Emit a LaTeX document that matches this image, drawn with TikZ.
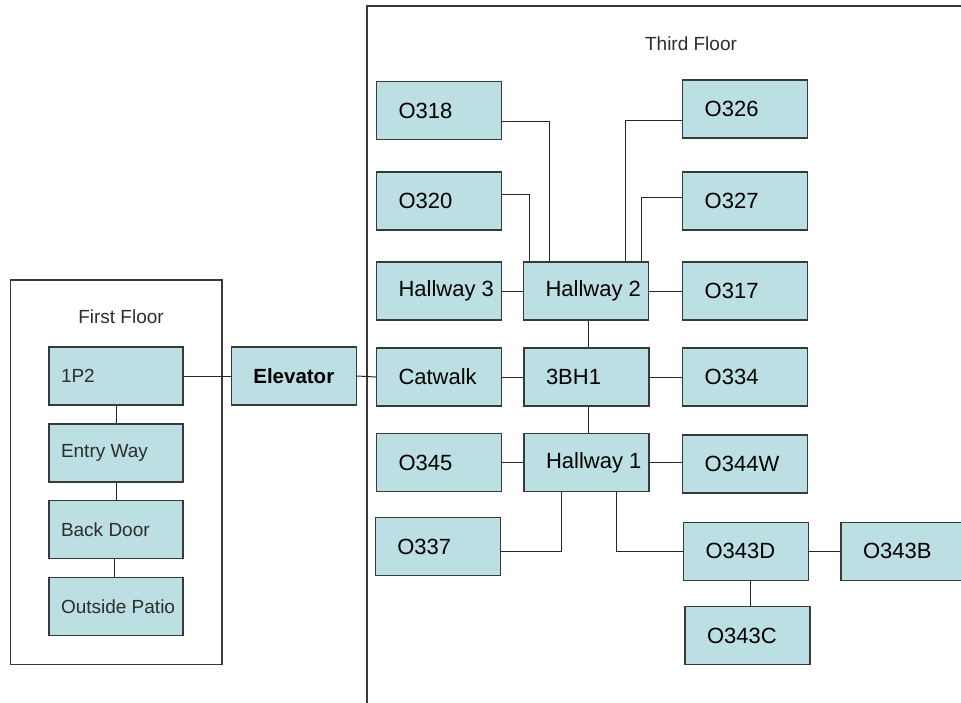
\documentclass[tikz,border=0pt]{standalone}
\usepackage{fontspec}
\setmainfont{Liberation Sans}
\definecolor{boxfill}{RGB}{187,223,226}
\definecolor{edgegray}{RGB}{58,58,58}
\definecolor{softtext}{RGB}{45,45,45}
\newcommand\rtA[1]{\makebox[81pt][l]{#1}}
\newcommand\rtB[1]{\makebox[110pt][l]{#1}}
\begin{document}
\begin{tikzpicture}[x=1pt,y=-1pt,
  room/.style={draw=edgegray, line width=1.3pt, fill=boxfill, rectangle,
    minimum width=125pt, minimum height=58pt, inner xsep=22pt, inner ysep=0pt,
    font=\fontsize{22}{26}\selectfont},
  froom/.style={room, minimum width=134pt, inner xsep=12pt, text=softtext,
    font=\fontsize{19}{23}\selectfont},
  elevbox/.style={room, inner xsep=4pt, font=\fontsize{20.5}{24}\selectfont\bfseries},
  link/.style={draw=black!85, line width=1pt},
  floorframe/.style={draw=edgegray, line width=1.2pt},
  title/.style={text=softtext, font=\fontsize{19}{23}\selectfont, inner sep=0pt}]
\useasboundingbox (0,0) rectangle (961,702);
\clip (0,0) rectangle (961,702);

% floor frames
\draw[floorframe] (10.7,280) rectangle (222,664.3);
\draw[floorframe] (367,6) rectangle (1000,720);
\node[title] (t1) at (121,316.7) {First Floor};
\node[title] (t3) at (691,44) {Third Floor};

% first floor
\node[froom] (p1)  at (116,376)   {\rtB{1P2}};
\node[froom] (ew)  at (116,453)   {\rtB{Entry Way}};
\node[froom] (bd)  at (116,529.7) {\rtB{Back Door}};
\node[froom] (op)  at (116,606.7) {\rtB{Outside Patio}};
\node[elevbox] (el) at (293.8,376) {Elevator};

% third floor
\node[room] (o318) at (439,110.5) {\rtA{O318}};
\node[room] (o326) at (745.2,109) {\rtA{O326}};
\node[room] (o320) at (439,201)   {\rtA{O320}};
\node[room] (o327) at (745.2,201) {\rtA{O327}};
\node[room] (h3)   at (439,291)   {\rtA{Hallway 3}};
\node[room] (h2)   at (586,291)   {\rtA{Hallway 2}};
\node[room] (o317) at (745.2,291) {\rtA{O317}};
\node[room] (cw)   at (439,377)   {\rtA{Catwalk}};
\node[room] (bh)   at (586.5,377) {\rtA{3BH1}};
\node[room] (o334) at (745.2,377) {\rtA{O334}};
\node[room] (o345) at (439,462.7) {\rtA{O345}};
\node[room] (h1)   at (586.5,462.7) {\rtA{Hallway 1}};
\node[room] (o344) at (745.2,464) {\rtA{O344W}};
\node[room] (o337) at (437.8,546.5) {\rtA{O337}};
\node[room] (o343d) at (746,551.3) {\rtA{O343D}};
\node[room] (o343b) at (903.5,551.3) {\rtA{O343B}};
\node[room] (o343c) at (747.5,635.5) {\rtA{O343C}};

% first floor links
\draw[link] (p1.east) -- (el.west);
\draw[link] (p1.south) -- (ew.north);
\draw[link] (ew.south) -- (bd.north);
\draw[link] ([xshift=-2pt]bd.south) -- ([xshift=-2pt]op.north);
\draw[link] (el.east) -- (cw.west);

% third floor links
\draw[link] ([yshift=-11.2pt]o318.east) -| ([xshift=-37pt]h2.north);
\draw[link] ([yshift=6.7pt]o320.east) -| ([xshift=-57pt]h2.north);
\draw[link] ([yshift=-11.7pt]o326.west) -| ([xshift=39pt]h2.north);
\draw[link] ([yshift=3.7pt]o327.west) -| ([xshift=55pt]h2.north);
\draw[link] (h3.east) -- (h2.west);
\draw[link] (h2.east) -- (o317.west);
\draw[link] ([xshift=2pt]h2.south) -- ([xshift=1.5pt]bh.north);
\draw[link] (cw.east) -- (bh.west);
\draw[link] (bh.east) -- (o334.west);
\draw[link] ([xshift=1.5pt]bh.south) -- ([xshift=1.5pt]h1.north);
\draw[link] (o345.east) -- (h1.west);
\draw[link] (h1.east) -- (o344.west |- h1.east);
\draw[link] ([yshift=-4.8pt]o337.east) -| ([xshift=-25.5pt]h1.south);
\draw[link] (o343d.west) -| ([xshift=29.5pt]h1.south);
\draw[link] (o343d.east) -- (o343b.west);
\draw[link] ([xshift=4pt]o343d.south) -- ([xshift=4pt]o343d.south |- o343c.north);
\end{tikzpicture}
\end{document}
